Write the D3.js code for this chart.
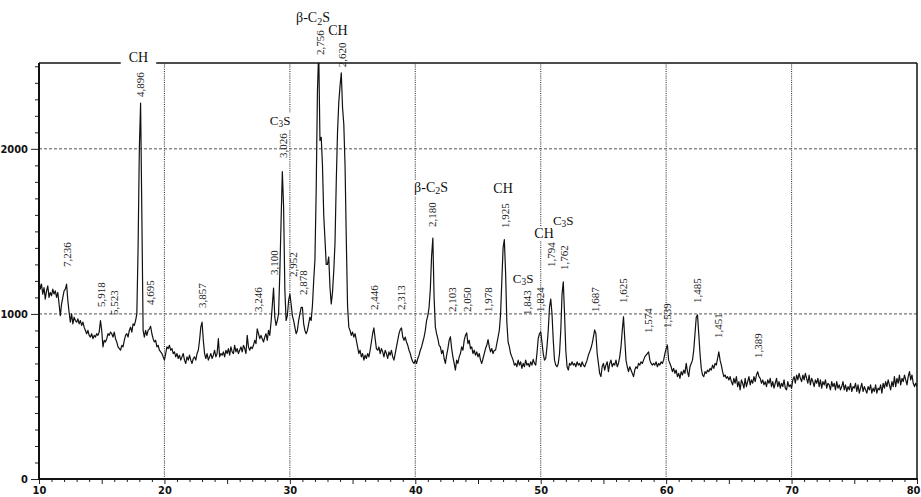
<!DOCTYPE html>
<html>
<head>
<meta charset="utf-8">
<script src="https://cdn.jsdelivr.net/npm/d3@7/dist/d3.min.js"></script>
<style>
  html, body { margin: 0; padding: 0; background: #fff; }
  svg { display: block; }
</style>
</head>
<body>
<svg id="chart" width="921" height="497"></svg>
<script>
// Scan: 2θ from 10° to 80°, step 0.1°
const scanStart = 10;
const scanStep = 0.1;

// Counts at each step (one row per degree)
const intensity = [
  1210,1150,1180,1120,1160,1090,1140,1170,1100,1130,
  1110,1150,1120,1140,1100,1130,1060,990,1060,1100,
  1140,1150,1180,1080,1010,950,1000,940,980,960,
  950,970,940,960,930,950,920,900,880,900,
  870,860,880,850,870,860,880,870,890,960,
  900,800,840,830,850,880,870,890,880,860,
  890,850,830,800,790,780,810,800,840,870,
  880,860,900,920,890,940,930,960,1000,1400,
  2000,2277,1600,900,860,900,870,900,910,925,
  880,850,830,840,800,810,780,770,760,740,
  720,760,800,790,810,780,790,760,770,740,
  760,730,750,720,740,760,720,700,740,720,
  750,720,700,730,740,720,760,780,840,920,
  950,840,760,730,760,720,740,760,730,750,
  780,740,760,850,740,760,750,770,740,780,
  760,790,750,800,770,760,810,770,790,760,
  780,800,770,810,790,760,870,800,780,800,
  790,810,840,820,910,880,850,870,850,830,
  860,880,840,900,870,950,1050,1157,980,930,
  960,1000,1250,1560,1862,1650,1150,960,990,1080,
  1120,1060,990,960,920,880,900,960,1000,1040,
  1040,940,900,880,900,940,980,960,1050,1200,
  1330,1750,2350,2600,2050,2070,1900,1600,1450,1300,
  1300,1345,1160,1060,1130,1260,1430,1800,2100,2280,
  2380,2460,2250,2150,1900,1450,1050,920,900,870,
  890,860,880,840,800,760,780,740,760,720,
  750,730,760,740,780,830,880,915,850,790,
  780,800,760,790,770,740,780,760,730,770,
  750,780,740,720,760,800,840,880,905,915,
  860,840,860,830,810,780,760,730,710,700,
  720,700,730,750,780,800,830,860,900,960,
  990,1040,1150,1350,1460,1100,920,880,850,810,
  800,760,780,730,700,750,790,840,862,790,
  740,700,660,720,700,740,760,800,780,840,
  870,885,820,840,790,800,760,780,750,770,
  740,760,720,700,730,760,790,810,845,800,
  770,790,760,780,780,820,860,900,1000,1200,
  1400,1450,1250,950,830,800,760,740,720,690,
  700,680,720,690,710,670,700,680,720,690,
  700,680,710,690,725,700,690,760,850,880,
  891,830,760,720,730,800,900,1040,1090,1000,
  840,720,690,680,700,760,900,1120,1195,1000,
  780,680,660,700,690,710,690,700,680,710,
  690,700,680,710,690,680,700,720,750,770,
  790,820,860,903,880,760,700,640,620,680,
  700,660,690,710,650,700,720,680,700,690,
  720,680,700,740,800,900,983,850,720,680,
  650,680,660,640,620,660,680,670,700,690,
  710,700,720,740,750,760,770,720,700,690,
  700,690,710,680,700,690,710,700,720,760,
  790,812,720,700,680,650,670,640,660,620,
  640,610,650,630,660,640,700,650,620,680,
  700,720,780,880,980,994,880,760,670,630,
  620,650,640,660,650,670,660,690,670,700,
  690,730,770,720,690,650,620,630,610,620,
  600,620,590,570,610,580,620,560,590,540,
  600,580,550,610,560,590,620,570,600,580,
  620,590,630,650,620,610,580,600,570,590,
  560,600,580,610,560,590,550,580,610,560,
  590,550,580,560,600,550,540,590,560,570,
  550,600,620,580,630,600,640,610,590,630,
  600,640,610,580,630,570,610,590,560,600,
  580,610,560,600,550,590,570,600,550,580,
  570,540,590,560,580,540,590,550,570,540,
  560,590,540,570,530,560,540,580,530,560,
  550,580,530,570,520,550,580,530,560,540,
  520,560,540,570,520,550,530,570,520,550,
  540,570,520,580,550,590,560,600,570,540,
  590,560,620,560,610,580,630,570,610,590,
  630,600,570,620,650,600,630,580,560,580,
  560
];

// Axis tick labels
const xTickLabels = [10, 20, 30, 40, 50, 60, 70, 80];
const yTickLabels = [0, 1000, 2000];

// Peak d-spacings (Å) and the intensity level each label sits at
const dSpacing = [
  "7,236","5,918","5,523","4,896","4,695","3,857","3,246","3,100","3,026","2,952",
  "2,878","2,756","2,620","2,446","2,313","2,180","2,103","2,050","1,978","1,925",
  "1,843","1,824","1,794","1,762","1,687","1,625","1,574","1,539","1,485","1,451","1,389"
];
const dLabelLevel = [
  1284,1042,993,2314,1054,1036,1012,1236,1944,1224,
  1115,2568,2495,1024,1024,1527,1012,1012,1012,1521,
  993,1012,1284,1266,1012,1066,884,915,1066,854,733
];
// Sideways nudge (px) for labels that would collide with a neighbour
const labelNudge = { "1,843": -6 };

// Phase assignments: name, 2θ and intensity level of the text baseline
const phaseNames = ["CH", "C3S", "β-C2S", "CH", "β-C2S", "CH", "C3S", "CH", "C3S"];
const phaseAngle = [17.93, 29.22, 31.85, 33.84, 41.26, 47.0, 48.6, 50.27, 51.79];
const phaseLevel = [2526, 2144, 2768, 2690, 1739, 1733, 1187, 1460, 1539];

// Cu Kα1 wavelength (Å), used to place d-spacing labels at 2θ
const wavelength = 1.5406;

const W = 921;
const svg = d3.select("#chart");
const plot = { left: 39, right: 917, top: 63, bottom: 479 };

const x = d3.scaleLinear().domain([10, 80]).range([plot.left, plot.right]);
const y = d3.scaleLinear().domain([0, 2520]).range([plot.bottom, plot.top]);

const twoTheta = d => 2 * Math.asin(wavelength / (2 * d)) * 180 / Math.PI;

svg.append("rect").attr("width", W).attr("height", 497).attr("fill", "#fff");

// Grid
const grid = svg.append("g");
grid.selectAll("line.v")
  .data([20, 30, 40, 50, 60, 70])
  .join("line")
  .attr("x1", d => x(d)).attr("x2", d => x(d))
  .attr("y1", y(0)).attr("y2", plot.top)
  .attr("stroke", "#333").attr("stroke-width", 1.1)
  .attr("stroke-dasharray", "1,1.2");
grid.selectAll("line.h")
  .data([1000, 2000])
  .join("line")
  .attr("x1", plot.left).attr("x2", plot.right)
  .attr("y1", d => y(d)).attr("y2", d => y(d))
  .attr("stroke", "#555").attr("stroke-width", 1)
  .attr("stroke-dasharray", "3,2");

// Pattern curve
svg.append("clipPath").attr("id", "plotClip")
  .append("rect")
  .attr("x", plot.left).attr("y", plot.top)
  .attr("width", plot.right - plot.left).attr("height", plot.bottom - plot.top);

const line = d3.line()
  .x((d, i) => x(scanStart + i * scanStep))
  .y(d => y(d));

svg.append("path")
  .datum(intensity)
  .attr("clip-path", "url(#plotClip)")
  .attr("fill", "none")
  .attr("stroke", "#111")
  .attr("stroke-width", 1.2)
  .attr("stroke-linejoin", "round")
  .attr("d", line);

// Frame
svg.append("line")
  .attr("x1", plot.left).attr("x2", plot.right)
  .attr("y1", plot.top).attr("y2", plot.top)
  .attr("stroke", "#111").attr("stroke-width", 1.5);
svg.append("line")
  .attr("x1", plot.right).attr("x2", plot.right)
  .attr("y1", plot.top).attr("y2", plot.bottom)
  .attr("stroke", "#111").attr("stroke-width", 1.5);

const tickFont = "'Liberation Sans Narrow','DejaVu Sans Condensed','Arial Narrow',sans-serif";

// Y axis
const yAxis = d3.axisLeft(y)
  .tickValues(d3.range(0, 2501, 100))
  .tickSize(4)
  .tickFormat(d => yTickLabels.includes(d) ? d : "");
const gy = svg.append("g").attr("transform", `translate(${plot.left},0)`).call(yAxis);
gy.select(".domain").remove();
gy.selectAll(".tick line").attr("stroke", "#222")
  .attr("x2", d => yTickLabels.includes(d) ? -8 : -4);
gy.selectAll(".tick text")
  .attr("x", -11)
  .attr("font-family", tickFont).attr("font-weight", "bold")
  .attr("font-size", 11).attr("fill", "#111");

// X axis
const xAxis = d3.axisBottom(x)
  .tickValues(d3.range(10, 81, 1))
  .tickSize(3)
  .tickFormat(d => xTickLabels.includes(d) ? d : "");
const gx = svg.append("g").attr("transform", `translate(0,${plot.bottom})`).call(xAxis);
gx.select(".domain").remove();
gx.selectAll(".tick line").attr("stroke", "#222")
  .attr("y2", d => d % 5 === 0 ? 5 : 3);
gx.selectAll(".tick text")
  .attr("y", 7)
  .attr("font-family", tickFont).attr("font-weight", "bold")
  .attr("font-size", 11).attr("fill", "#111");
// keep the last label inside the page edge
gx.selectAll(".tick text").each(function (d) {
  const b = this.getBBox();
  const right = x(d) + b.x + b.width;
  if (right > W - 1) d3.select(this).attr("dx", (W - 1 - right));
});

// Axis lines
svg.append("line")
  .attr("x1", plot.left).attr("x2", plot.left)
  .attr("y1", plot.top).attr("y2", plot.bottom + 1)
  .attr("stroke", "#111").attr("stroke-width", 2);
svg.append("line")
  .attr("x1", plot.left - 1).attr("x2", plot.right + 1)
  .attr("y1", plot.bottom).attr("y2", plot.bottom)
  .attr("stroke", "#111").attr("stroke-width", 2);

// d-spacing labels
svg.append("g")
  .selectAll("text")
  .data(dSpacing)
  .join("text")
  .attr("transform", (d, i) => {
    const a = twoTheta(parseFloat(d.replace(",", ".")));
    const nx = labelNudge[d] || 0;
    return `translate(${x(a) + nx},${y(dLabelLevel[i])}) rotate(-90)`;
  })
  .attr("dy", "0.33em")
  .attr("font-family", "'Liberation Serif','Times New Roman',serif")
  .attr("font-size", 11)
  .attr("fill", "#222")
  .text(d => d);

// Phase labels (digits drawn as subscripts)
const phases = svg.append("g");
phaseNames.forEach((name, i) => {
  const size = name.startsWith("C3") ? 13 : 14;
  const t = phases.append("text")
    .attr("x", x(phaseAngle[i]))
    .attr("y", y(phaseLevel[i]))
    .attr("text-anchor", "middle")
    .attr("font-family", "'Liberation Serif','Times New Roman',serif")
    .attr("font-size", size)
    .attr("fill", "#111");
  name.split(/(\d)/).filter(s => s.length).forEach(part => {
    if (/\d/.test(part)) {
      t.append("tspan").attr("font-size", size * 0.72).attr("dy", size * 0.18).text(part);
    } else {
      const sp = t.append("tspan").text(part);
      if (t.selectAll("tspan").size() > 1) sp.attr("dy", -size * 0.18);
    }
  });
  const b = t.node().getBBox();
  const crossesFrame = b.y < plot.top && b.y + b.height > plot.top - 2;
  const pad = crossesFrame ? 8 : 1;
  phases.insert("rect", () => t.node())
    .attr("x", b.x - pad).attr("y", b.y)
    .attr("width", b.width + 2 * pad).attr("height", b.height)
    .attr("fill", "#fff");
});
</script>
</body>
</html>
